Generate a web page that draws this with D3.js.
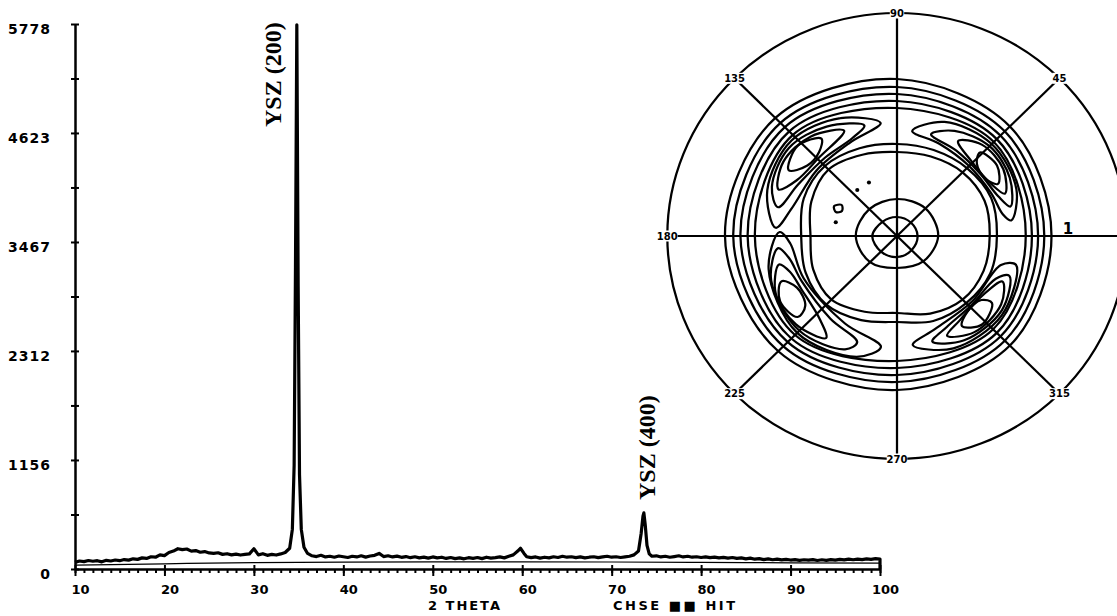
<!DOCTYPE html>
<meta charset="utf-8">
<head>
  <title>YSZ scan and pole figure</title>
</head>

<style>
body {
  margin: 0;
  background: #fff;
}
svg text {
  font-family: "DejaVu Sans", sans-serif;
  font-weight: bold;
  fill: #000;
}
</style>

<body>
  <div id="content">
    <svg width="1117" height="616"></svg>
  </div>

  <script src="https://cdnjs.cloudflare.com/ajax/libs/d3/7.8.5/d3.min.js"></script>

  <script>
// ---- scan data (2 theta, counts) ----
var yTickLabels = [0, 1156, 2312, 3467, 4623, 5778];
var yMinorTicks = [578, 1734, 2889, 4045, 5200];
var xTickLabels = [10, 20, 30, 40, 50, 60, 70, 80, 90, 100];

var scan = [
  [10,70],[10.5,85],[11,78],[11.5,90],[12,82],[12.5,88],[13,76],[13.5,92],[14,85],[14.5,95],
  [15,88],[15.5,100],[16,94],[16.5,108],[17,102],[17.5,118],[18,112],[18.5,130],[19,125],[19.5,150],
  [20,142],[20.5,175],[21,190],[21.5,215],[22,205],[22.5,212],[23,190],[23.5,195],[24,178],[24.5,185],
  [25,170],[25.5,165],[26,172],[26.5,155],[27,162],[27.5,150],[28,158],[28.5,148],[29,155],[29.5,160],
  [30,215],[30.5,150],[31,162],[31.5,145],[32,155],[32.5,148],[33,160],[33.5,175],
  [34,220],[34.3,420],[34.5,1100],[34.65,3200],[34.8,5770],[34.95,3000],[35.1,1000],[35.3,420],[35.6,230],
  [36,165],[36.5,140],[37,132],[37.5,145],[38,128],[38.5,135],[39,125],[39.5,138],
  [40,130],[40.5,122],[41,135],[41.5,128],[42,140],[42.5,126],[43,138],[43.5,145],[44,165],[44.5,132],
  [45,140],[45.5,128],[46,136],[46.5,124],[47,132],[47.5,120],[48,130],[48.5,118],[49,126],[49.5,115],
  [50,128],[50.5,118],[51,125],[51.5,112],[52,122],[52.5,110],[53,118],[53.5,108],[54,120],[54.5,112],
  [55,122],[55.5,110],[56,125],[56.5,115],[57,120],[57.5,128],[58,118],[58.5,135],[59,150],[59.5,190],
  [59.8,220],[60.2,165],[60.5,130],[61,120],[61.5,128],[62,115],[62.5,125],[63,118],[63.5,130],[64,122],
  [64.5,135],[65,125],[65.5,130],[66,120],[66.5,128],[67,118],[67.5,125],[68,130],[68.5,120],[69,128],
  [69.5,135],[70,125],[70.5,130],[71,122],[71.5,128],[72,135],[72.5,150],
  [73,190],[73.3,380],[73.5,560],[73.6,595],[73.75,470],[73.95,250],[74.2,160],[74.5,135],
  [75,140],[75.5,128],[76,135],[76.5,125],[77,132],[77.5,140],[78,128],[78.5,135],[79,125],[79.5,130],
  [80,122],[80.5,128],[81,120],[81.5,126],[82,118],[82.5,124],[83,116],[83.5,122],[84,112],[84.5,118],
  [85,108],[85.5,115],[86,104],[86.5,110],[87,100],[87.5,108],[88,98],[88.5,104],[89,96],[89.5,102],
  [90,95],[90.5,100],[91,92],[91.5,98],[92,94],[92.5,100],[93,90],[93.5,98],[94,92],[94.5,100],
  [95,94],[95.5,102],[96,96],[96.5,104],[97,98],[97.5,105],[98,100],[98.5,108],[99,102],[99.5,110],
  [100,105],[100,0]
];

var background = [[10,40],[20,55],[30,68],[40,72],[50,75],[60,76],[70,74],[80,70],[90,66],[100,62]];

var peakNames = ['YSZ (200)', 'YSZ (400)'];
var peakPositions = [34.8, 73.6];

// ---- pole figure data: [angle deg, radius] ----
var poleLabels = ['90', '45', '135', '180', '225', '270', '315'];
var poleLabelAngles = [90, 45, 135, 180, 225, 270, 315];
var spokeAngles = [0, 45, 90, 135, 180, 225, 270, 315];

var ang8 = [0, 45, 90, 135, 180, 225, 270, 315];
var ang16 = [0, 22.5, 45, 67.5, 90, 112.5, 135, 157.5, 180, 202.5, 225, 247.5, 270, 292.5, 315, 337.5];

var centreRings = [
  [20, 19, 19, 20, 24, 22, 21, 20],
  [40, 39, 37, 38, 40, 37, 32, 36]
];
var innerRings = [
  [90, 92, 90, 86, 84, 88, 94, 90, 84, 88, 90, 82, 77, 84, 90, 91],
  [97, 99, 96, 93, 92, 95, 99, 98, 93, 96, 97, 91, 86, 92, 95, 98]
];
var outerRings = [
  [150, 155, 157, 167, 167, 163, 154, 155],
  [143, 148, 149, 160, 159, 156, 146, 148],
  [137, 142, 142, 154, 152, 150, 139, 142],
  [131, 137, 135, 148, 145, 145, 132, 137],
  [125, 133, 128, 143, 138, 140, 125, 132]
];

var lobeA = [
  [[8,112],[22,125],[45,130],[68,123],[82,106],[66,101],[45,99],[25,101],[12,105]],
  [[15,114],[28,124],[45,127],[62,119],[72,107],[56,103],[38,102],[22,106]],
  [[22,113],[33,123],[48,123],[58,112],[46,104],[30,105]],
  [[28,111],[36,120],[46,116],[43,106],[34,103]]
];
var lobeB = [
  [[98,114],[115,130],[137,140],[160,134],[176,118],[165,106],[140,102],[116,104]],
  [[106,115],[122,129],[140,137],[158,131],[166,119],[152,109],[132,105],[114,107]],
  [[116,117],[130,130],[146,133],[158,124],[150,112],[134,109]],
  [[127,122],[137,132],[148,124],[141,112],[132,113]]
];
var lobeC = [
  [[178,114],[195,129],[225,137],[252,127],[262,112],[240,101],[205,100],[184,104]],
  [[186,116],[200,130],[225,134],[246,124],[250,113],[232,105],[206,103],[192,107]],
  [[194,118],[206,131],[222,132],[236,123],[228,112],[210,107],[199,110]],
  [[202,121],[210,131],[220,126],[218,113],[208,110]]
];
var lobeD = [
  [[278,110],[296,125],[322,129],[346,119],[344,105],[318,98],[292,100]],
  [[288,111],[302,123],[324,126],[340,116],[336,105],[316,100],[298,103]],
  [[296,111],[308,122],[326,122],[336,112],[324,102],[306,104]],
  [[305,110],[313,121],[324,114],[322,104],[312,102]]
];
var smallLoop = [[150,62],[154,68],[158,64],[155,59]];
var poleDots = [[130,60],[117,60],[167,61]];


var svg = d3.select('#content svg');

svg.append('rect')
  .attr('width', 1117)
  .attr('height', 616)
  .attr('fill', '#fff');

// ---- scan ----
var x = d3.scaleLinear().domain([10, 100]).range([75, 880]);
var y = d3.scaleLinear().domain([0, 5778]).range([569, 24]);

// minor x ticks
svg.append('g')
  .attr('transform', 'translate(0,' + y(0) + ')')
  .call(d3.axisBottom(x).tickValues(d3.range(10, 101, 1)).tickSize(4).tickSizeOuter(0).tickFormat(''))
  .call(function(g) { g.select('.domain').remove(); })
  .selectAll('.tick line').attr('stroke-width', 2);

// major x ticks and labels
var xAxis = svg.append('g')
  .attr('transform', 'translate(0,' + y(0) + ')')
  .call(d3.axisBottom(x).tickValues(xTickLabels).tickSize(7).tickSizeOuter(0).tickPadding(9).tickFormat(d3.format('d')));
xAxis.select('.domain').attr('stroke-width', 2.5);
xAxis.selectAll('.tick line').attr('y1', -4).attr('stroke-width', 2);
xAxis.selectAll('.tick text')
  .attr('dx', 5)
  .style('font-size', '13px')
  .style('font-family', '"DejaVu Sans", sans-serif')
  .style('font-weight', 'bold');

// y axis
var yAxis = svg.append('g')
  .attr('transform', 'translate(' + x(10) + ',0)')
  .call(d3.axisLeft(y).tickValues(yTickLabels).tickSize(4).tickSizeOuter(0).tickPadding(20).tickFormat(d3.format('d')));
yAxis.select('.domain').attr('stroke-width', 2.5);
yAxis.selectAll('.tick line').attr('x1', 4).attr('stroke-width', 2);
yAxis.selectAll('.tick text')
  .attr('dy', '0.7em')
  .style('font-size', '14px')
  .style('letter-spacing', '1px')
  .style('font-family', '"DejaVu Sans", sans-serif')
  .style('font-weight', 'bold');

svg.append('g')
  .attr('transform', 'translate(' + x(10) + ',0)')
  .call(d3.axisLeft(y).tickValues(yMinorTicks).tickSize(4).tickSizeOuter(0).tickFormat(''))
  .call(function(g) { g.select('.domain').remove(); })
  .selectAll('.tick line').attr('x1', 4).attr('stroke-width', 2);

var line = d3.line()
  .x(function(d) { return x(d[0]); })
  .y(function(d) { return y(d[1]); });

svg.append('path')
  .datum(background)
  .attr('d', line.curve(d3.curveMonotoneX))
  .attr('fill', 'none')
  .attr('stroke', '#000')
  .attr('stroke-width', 1.2);

svg.append('path')
  .datum(scan)
  .attr('d', line.curve(d3.curveLinear))
  .attr('fill', 'none')
  .attr('stroke', '#000')
  .attr('stroke-width', 3.2)
  .attr('stroke-linejoin', 'round');

// peak names (rotated)
var nameOffset = [-16, 11];
var nameBottom = [127, 500];
peakNames.forEach(function(name, i) {
  svg.append('text')
    .attr('transform', 'translate(' + (x(peakPositions[i]) + nameOffset[i]) + ',' + nameBottom[i] + ') rotate(-90)')
    .style('font-family', '"Liberation Serif", "Times New Roman", serif')
    .style('font-size', '24px')
    .text(name);
});

svg.append('text')
  .attr('x', 428).attr('y', 610)
  .attr('textLength', 72).attr('lengthAdjust', 'spacing')
  .style('font-size', '13px')
  .text('2 THETA');

svg.append('text')
  .attr('x', 613).attr('y', 610)
  .attr('textLength', 122).attr('lengthAdjust', 'spacing')
  .style('font-size', '13px')
  .text('CHSE ■■ HIT');

// ---- pole figure ----
var cx = 897, cy = 236, stretch = 1.03;
var rScale = d3.scaleLinear().domain([0, 223]).range([0, 223]);

var pole = svg.append('g')
  .attr('transform', 'translate(' + cx + ',' + cy + ') scale(' + stretch + ',1)')
  .attr('fill', 'none')
  .attr('stroke', '#000')
  .attr('stroke-width', 2.2)
  .attr('stroke-linejoin', 'round');

pole.append('circle')
  .attr('r', rScale(223));

pole.selectAll('line.spoke')
  .data(spokeAngles)
  .enter().append('line')
  .attr('class', 'spoke')
  .attr('x1', 0).attr('y1', 0)
  .attr('x2', function(a) { return rScale(223) * Math.cos(a * Math.PI / 180); })
  .attr('y2', function(a) { return -rScale(223) * Math.sin(a * Math.PI / 180); });

var radial = d3.lineRadial()
  .angle(function(d) { return (90 - d[0]) * Math.PI / 180; })
  .radius(function(d) { return rScale(d[1]); })
  .curve(d3.curveCatmullRomClosed.alpha(0.5));

function ring(angles) {
  return function(radii) { return radii.map(function(r, i) { return [angles[i], r]; }); };
}

var contours = []
  .concat(centreRings.map(ring(ang8)))
  .concat(innerRings.map(ring(ang16)))
  .concat(outerRings.map(ring(ang8)))
  .concat(lobeA, lobeB, lobeC, lobeD, [smallLoop]);

pole.selectAll('path.contour')
  .data(contours)
  .enter().append('path')
  .attr('class', 'contour')
  .attr('d', radial);

pole.selectAll('circle.dot')
  .data(poleDots)
  .enter().append('circle')
  .attr('class', 'dot')
  .attr('fill', '#000')
  .attr('stroke', 'none')
  .attr('r', 2)
  .attr('cx', function(d) { return rScale(d[1]) * Math.cos(d[0] * Math.PI / 180); })
  .attr('cy', function(d) { return -rScale(d[1]) * Math.sin(d[0] * Math.PI / 180); });

// labels on the rim
var rim = svg.append('g');
poleLabels.forEach(function(label, i) {
  var a = poleLabelAngles[i] * Math.PI / 180;
  var px = cx + stretch * rScale(223) * Math.cos(a);
  var py = cy - rScale(223) * Math.sin(a);
  var w = label.length * 6.2 + 2;
  rim.append('rect')
    .attr('x', px - w / 2).attr('y', py - 5.5)
    .attr('width', w).attr('height', 11)
    .attr('fill', '#fff');
  rim.append('text')
    .attr('x', px).attr('y', py)
    .attr('dy', '0.36em')
    .attr('text-anchor', 'middle')
    .style('font-size', '10px')
    .text(label);
});

svg.append('text')
  .attr('x', 1068).attr('y', 234)
  .attr('text-anchor', 'middle')
  .style('font-size', '15px')
  .text('1');
  </script>
</body>
</html>
